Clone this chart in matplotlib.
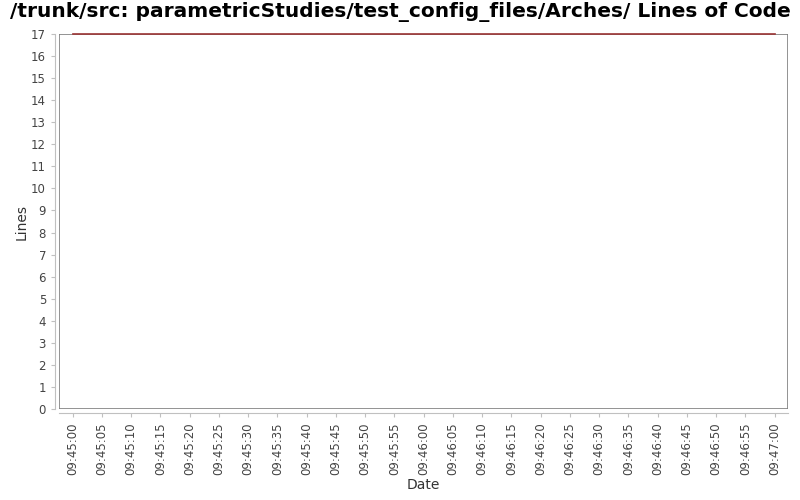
import datetime as dt
import matplotlib
matplotlib.use("Agg")
import matplotlib.pyplot as plt
import matplotlib.dates as mdates
from matplotlib.patches import Rectangle

title = "/trunk/src: parametricStudies/test_config_files/Arches/ Lines of Code"
dates = [dt.datetime(2010, 1, 1, 9, 45, 0), dt.datetime(2010, 1, 1, 9, 47, 0)]
lines = [17, 17]

fig = plt.figure(figsize=(8, 5), dpi=100)
ax = fig.add_axes([0.074, 0.182, 0.911, 0.75])

ax.plot(dates, lines, color="#993333", lw=1.2, clip_on=False, zorder=3)

ax.set_ylim(0, 17)
ax.set_yticks(range(0, 18))
pad = dt.timedelta(seconds=2.3)
ax.set_xlim(dates[0] - pad, dates[-1] + pad)
ax.xaxis.set_major_locator(mdates.SecondLocator(bysecond=range(0, 60, 5)))
ax.xaxis.set_major_formatter(mdates.DateFormatter("%H:%M:%S"))
ax.tick_params(axis="x", labelrotation=90)

for s in ["top", "right"]:
    ax.spines[s].set_visible(False)
for s in ["left", "bottom"]:
    ax.spines[s].set_position(("outward", 3))
    ax.spines[s].set_color("#c0c0c0")
ax.add_patch(Rectangle((0, 0), 1, 1, transform=ax.transAxes, fill=False,
                       edgecolor="#808080", lw=1.2, zorder=2))

ax.tick_params(colors="#c0c0c0", labelcolor="#444444", labelsize=8.5, length=3)

ax.set_ylabel("Lines", fontsize=10, color="#333333", labelpad=2)
ax.set_xlabel("Date", fontsize=10, color="#333333", labelpad=2)
fig.suptitle(title, fontsize=14.5, fontweight="bold", y=0.997)

fig.savefig("out.png", dpi=100)
